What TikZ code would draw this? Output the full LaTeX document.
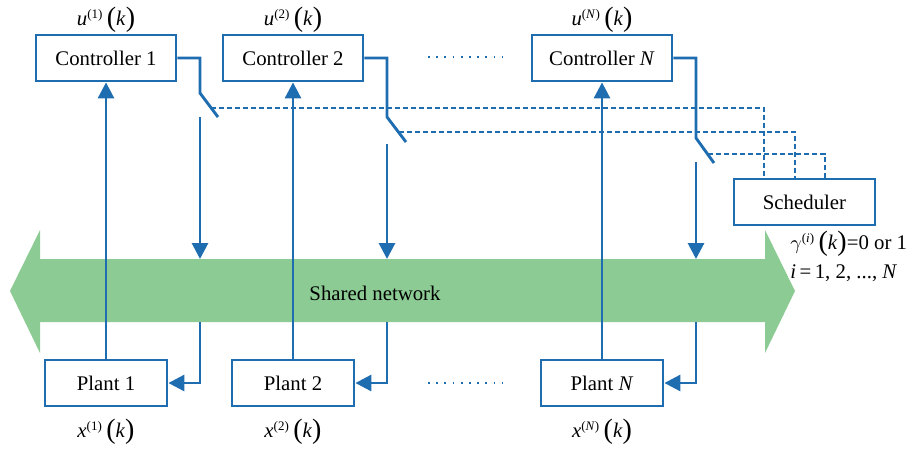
\documentclass[tikz,border=0pt]{standalone}
\usepackage{fontspec}
\setmainfont{Liberation Serif}
\usetikzlibrary{arrows.meta,calc}
\definecolor{lblue}{HTML}{1F6DB1}
\definecolor{lgreen}{HTML}{8DCB94}
\newcommand\lpar{{\fontsize{14}{14}\selectfont\raisebox{-0.6pt}{(}}}
\newcommand\rpar{{\fontsize{14}{14}\selectfont\raisebox{-0.6pt}{)}}}
\newcommand\lbl[2]{\textit{#1}\textsuperscript{\fontsize{6.5}{7}\selectfont(#2)}\,\lpar\textit{k}\rpar}
\begin{document}
\begin{tikzpicture}[x=0.5pt,y=-0.5pt,
  font=\fontsize{10.4}{12}\selectfont,
  box/.style={draw=lblue,line width=1.4pt,fill=white,minimum width=70pt,minimum height=23pt,inner sep=0pt},
  pbox/.style={box,minimum width=61pt},
  wire/.style={draw=lblue,line width=1.45pt},
  arr/.style={wire,-{Triangle[length=8pt,width=8pt]}},
  sched/.style={draw=lblue,line width=1pt,dash pattern=on 2.5pt off 1.5pt},
  dotline/.style={draw=lblue,line width=0.9pt,dash pattern=on 0.9pt off 3.2pt}]
\useasboundingbox (0,0) rectangle (915,451);
% network arrow
\fill[lgreen] (10,291) -- (40,230) -- (40,259) -- (765,259) -- (765,230) -- (795,291) -- (765,353) -- (765,322) -- (40,322) -- (40,353) -- cycle;
\node (net) at (375,293) {Shared network};
% boxes
\node[box] (C1) at (106,58) {Controller 1};
\node[box] (C2) at (293,58) {Controller 2};
\node[box] (CN) at (602,58) {Controller \textit{N}};
\node[pbox] (P1) at (106,383) {Plant 1};
\node[pbox] (P2) at (293,383) {Plant 2};
\node[pbox] (PN) at (602,383) {Plant \textit{N}};
\node[box,minimum width=70.5pt] (S) at (804.5,202) {Scheduler};
% labels
\node (u1) at (106,20) {\lbl{u}{1}};
\node (u2) at (293,20) {\lbl{u}{2}};
\node (uN) at (602,20) {\lbl{u}{\textit{N}}};
\node (x1) at (106,432) {\lbl{x}{1}};
\node (x2) at (293,432) {\lbl{x}{2}};
\node (xN) at (602,432) {\lbl{x}{\textit{N}}};
\node[anchor=west,inner sep=0pt] (g) at (790,244) {$\gamma$\textsuperscript{\fontsize{6.5}{7}\selectfont(\textit{i})}\,\lpar\textit{k}\rpar=0 or 1};
\node[anchor=west,inner sep=0pt] (ii) at (790,273) {\textit{i}\,=\,1, 2, ..., \textit{N}};
% coordinates for switches
\coordinate (a1) at (200,93);  \coordinate (b1) at (218,117); \coordinate (c1) at (200,117);
\coordinate (a2) at (387,117); \coordinate (b2) at (406,142); \coordinate (c2) at (387,144);
\coordinate (aN) at (696,138); \coordinate (bN) at (714,163); \coordinate (cN) at (696,162);
\coordinate (t1) at (200,259); \coordinate (t2) at (387,259); \coordinate (tN) at (696,259);
\coordinate (l1) at (200,322); \coordinate (l2) at (387,322); \coordinate (lN) at (696,322);
% up arrows plant -> controller
\draw[arr] (P1.north) -- (C1.south);
\draw[arr] (P2.north) -- (C2.south);
\draw[arr] (PN.north) -- (CN.south);
% controller outputs with switches
\draw[wire] (C1.east) -| (a1) -- (b1);
\draw[wire] (C2.east) -| (a2) -- (b2);
\draw[wire] (CN.east) -| (aN) -- (bN);
\draw[arr] (c1) -- (t1);
\draw[arr] (c2) -- (t2);
\draw[arr] (cN) -- (tN);
\draw[arr] (l1) |- (P1.east);
\draw[arr] (l2) |- (P2.east);
\draw[arr] (lN) |- (PN.east);
% scheduler dashed links
\coordinate (d1) at (211,108); \coordinate (d2) at (399,132); \coordinate (dN) at (708,154);
\draw[sched] (d1) -| ($(S.north west)+(31,0)$);
\draw[sched] (d2) -| ($(S.north west)+(62,0)$);
\draw[sched] (dN) -| ($(S.north west)+(92,0)$);
% dotted ellipses
\coordinate (e1) at (428,57); \coordinate (e2) at (502,57);
\coordinate (f1) at (428,383); \coordinate (f2) at (502,383);
\draw[dotline] (e1) -- (e2);
\draw[dotline] (f1) -- (f2);
\end{tikzpicture}
\end{document}
